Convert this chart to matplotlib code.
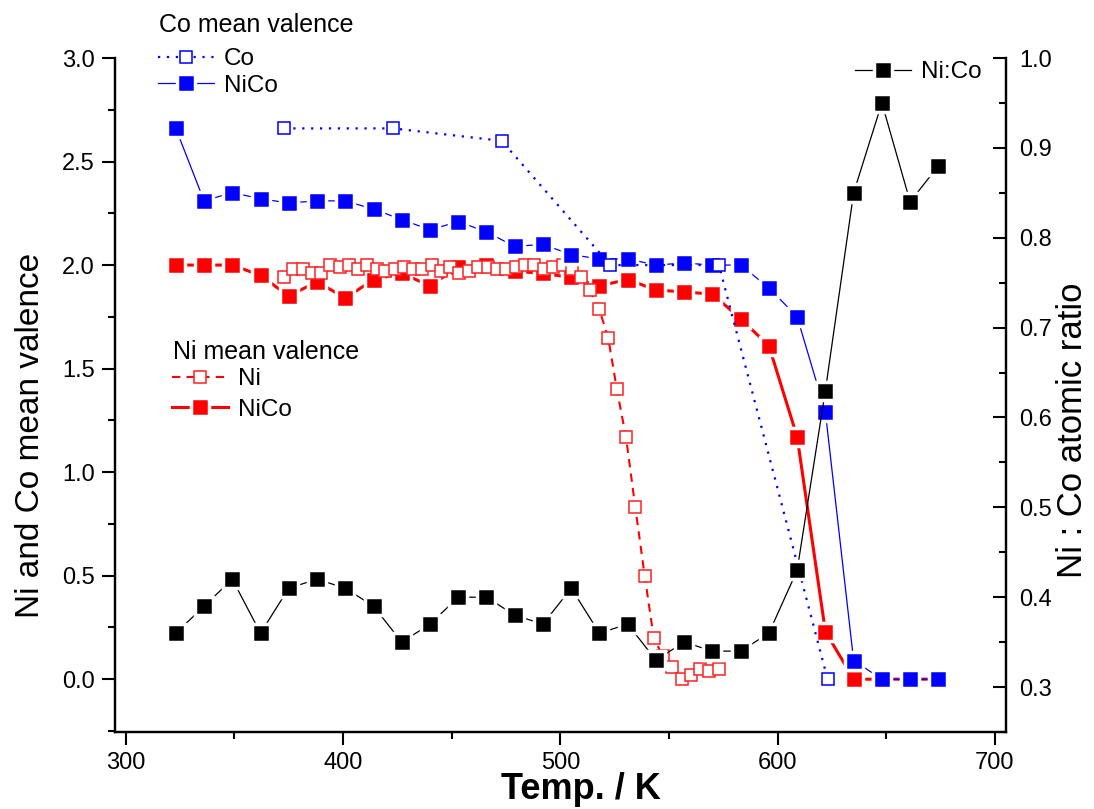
import numpy as np
import matplotlib
matplotlib.use("Agg")
import matplotlib.pyplot as plt
from matplotlib.ticker import MultipleLocator, FormatStrFormatter

plt.rcParams['font.family'] = ['Liberation Sans', 'DejaVu Sans']
plt.rcParams['font.size'] = 17

# temperatures of the NiCo samples (K)
temp = [323, 336, 349, 362, 375, 388, 401, 414, 427, 440, 453, 466, 479, 492,
        505, 518, 531, 544, 557, 570, 583, 596, 609, 622, 635, 648, 661, 674]
co_nico = [2.66, 2.31, 2.35, 2.32, 2.30, 2.31, 2.31, 2.27, 2.22, 2.17, 2.21, 2.16, 2.09, 2.10,
           2.05, 2.03, 2.03, 2.00, 2.01, 2.00, 2.00, 1.89, 1.75, 1.29, 0.09, 0.00, 0.00, 0.00]
ni_nico = [2.00, 2.00, 2.00, 1.95, 1.85, 1.92, 1.84, 1.93, 1.96, 1.90, 1.99, 2.00, 1.97, 1.96,
           1.94, 1.90, 1.93, 1.88, 1.87, 1.86, 1.74, 1.61, 1.17, 0.23, 0.00, 0.00, 0.00, 0.00]
ratio = [0.36, 0.39, 0.42, 0.36, 0.41, 0.42, 0.41, 0.39, 0.35, 0.37, 0.40, 0.40, 0.38, 0.37,
         0.41, 0.36, 0.37, 0.33, 0.35, 0.34, 0.34, 0.36, 0.43, 0.63, 0.85, 0.95, 0.84, 0.88]

# Co reference sample
temp_co = [373, 423, 473, 523, 573, 623]
co_co = [2.66, 2.66, 2.60, 2.00, 2.00, 0.00]

# Ni reference sample
temp_ni = [373.0, 377.1, 381.5, 385.6, 390.0, 394.0, 398.5, 402.8, 407.0, 411.2, 415.5, 419.5,
           423.8, 428.0, 432.3, 436.5, 440.8, 445.0, 449.2, 453.5, 458.0, 462.3, 466.5, 470.8,
           475.0, 479.5, 483.8, 488.0, 492.3, 496.5, 501.0, 505.2, 509.3, 513.5, 517.8, 522.0,
           526.0, 530.2, 534.5, 538.8, 543.0, 547.2, 551.5, 555.8, 560.0, 564.2, 568.5, 572.8]
ni_ni = [1.94, 1.98, 1.98, 1.96, 1.96, 2.00, 1.99, 2.00, 1.98, 2.00, 1.98, 1.97,
         1.98, 1.99, 1.98, 1.98, 2.00, 1.97, 1.99, 1.96, 1.97, 1.99, 1.99, 1.98,
         1.98, 1.99, 2.00, 2.00, 1.98, 1.99, 2.00, 1.98, 1.94, 1.88, 1.79, 1.65,
         1.40, 1.17, 0.83, 0.50, 0.20, 0.11, 0.06, 0.00, 0.02, 0.05, 0.04, 0.05]

fig = plt.figure(figsize=(10.94, 8.09), dpi=100)
ax = fig.add_axes([0.1051, 0.0952, 0.8142, 0.8331])
ax2 = ax.twinx()

# filled squares get a thin white rim so the lines stop short of them
filled = dict(marker='s', ms=12.5, mec='white', mew=2.5)
l_ni_nico, = ax.plot(temp, ni_nico, '-', color='#ff0000', lw=2.2, mfc='#ff0000',
                     label='NiCo', **filled)
l_ni, = ax.plot(temp_ni, ni_ni, '--', color='#ff0000', lw=1.5, dashes=(4, 3), marker='s', ms=8.5,
                mfc='white', mec='#ff2020', mew=1.1, label='Ni')
l_co_nico, = ax.plot(temp, co_nico, '-', color='#0000ff', lw=0.9, mfc='#0000ff',
                     label='NiCo', **filled)
l_co, = ax.plot(temp_co, co_co, ':', color='#0000ff', lw=1.6, dashes=(1, 3), marker='s', ms=8.5,
                mfc='white', mec='#0000ff', mew=1.1, label='Co')
l_ratio, = ax2.plot(temp, ratio, '-', color='black', lw=0.9, mfc='black',
                    label='Ni:Co', **filled)

ax.set_xlim(295, 705)
ax.set_ylim(-0.255, 3.0)
ax2.set_ylim(0.25, 1.0)

ax.xaxis.set_major_locator(MultipleLocator(100))
ax.xaxis.set_minor_locator(MultipleLocator(50))
ax.yaxis.set_major_locator(MultipleLocator(0.5))
ax.yaxis.set_minor_locator(MultipleLocator(0.25))
ax.yaxis.set_major_formatter(FormatStrFormatter('%.1f'))
ax2.yaxis.set_major_locator(MultipleLocator(0.1))
ax2.yaxis.set_minor_locator(MultipleLocator(0.05))
ax2.yaxis.set_major_formatter(FormatStrFormatter('%.1f'))

for a in (ax, ax2):
    a.spines['top'].set_visible(False)
    for s in a.spines.values():
        s.set_linewidth(1.6)
ax.tick_params(which='both', direction='out', width=1.5, labelsize=17)
ax.tick_params(which='major', length=9.5, pad=5)
ax.tick_params(which='minor', length=5)
ax2.tick_params(which='both', direction='in', width=1.5, labelsize=17)
ax2.tick_params(which='major', length=9.5, pad=10)
ax2.tick_params(which='minor', length=5)

ax.set_xlabel('Temp. / K', fontsize=26, fontweight='bold', va='bottom')
ax.xaxis.set_label_coords(0.523, -0.112)
ax.set_ylabel('Ni and Co mean valence', fontsize=24)
ax.yaxis.set_label_coords(-0.078, 0.44)
ax2.set_ylabel('Ni : Co atomic ratio', fontsize=25)
ax2.yaxis.set_label_coords(1.057, 0.448)

# legend titles as plain texts
fig.text(159 / 1094, 1 - 25 / 809, 'Co mean valence', fontsize=18, ha='left', va='center')
fig.text(173 / 1094, 1 - 352 / 809, 'Ni mean valence', fontsize=18, ha='left', va='center')

common = dict(frameon=False, numpoints=1, handlelength=2.3, handletextpad=0.4,
              borderpad=0, borderaxespad=0, fontsize=17.5,
              bbox_transform=fig.transFigure, loc='upper left')
leg1 = ax.legend([l_co, l_co_nico], ['Co', 'NiCo'], labelspacing=0.2,
                 bbox_to_anchor=(158 / 1094, 1 - 48 / 809), **common)
ax.add_artist(leg1)
leg2 = ax.legend([l_ni, l_ni_nico], ['Ni', 'NiCo'], labelspacing=0.35,
                 bbox_to_anchor=(172 / 1094, 1 - 368 / 809), **common)
ax2.legend([l_ratio], ['Ni:Co'], bbox_to_anchor=(855 / 1094, 1 - 61 / 809), **common)

fig.savefig('out.png', dpi=100)
